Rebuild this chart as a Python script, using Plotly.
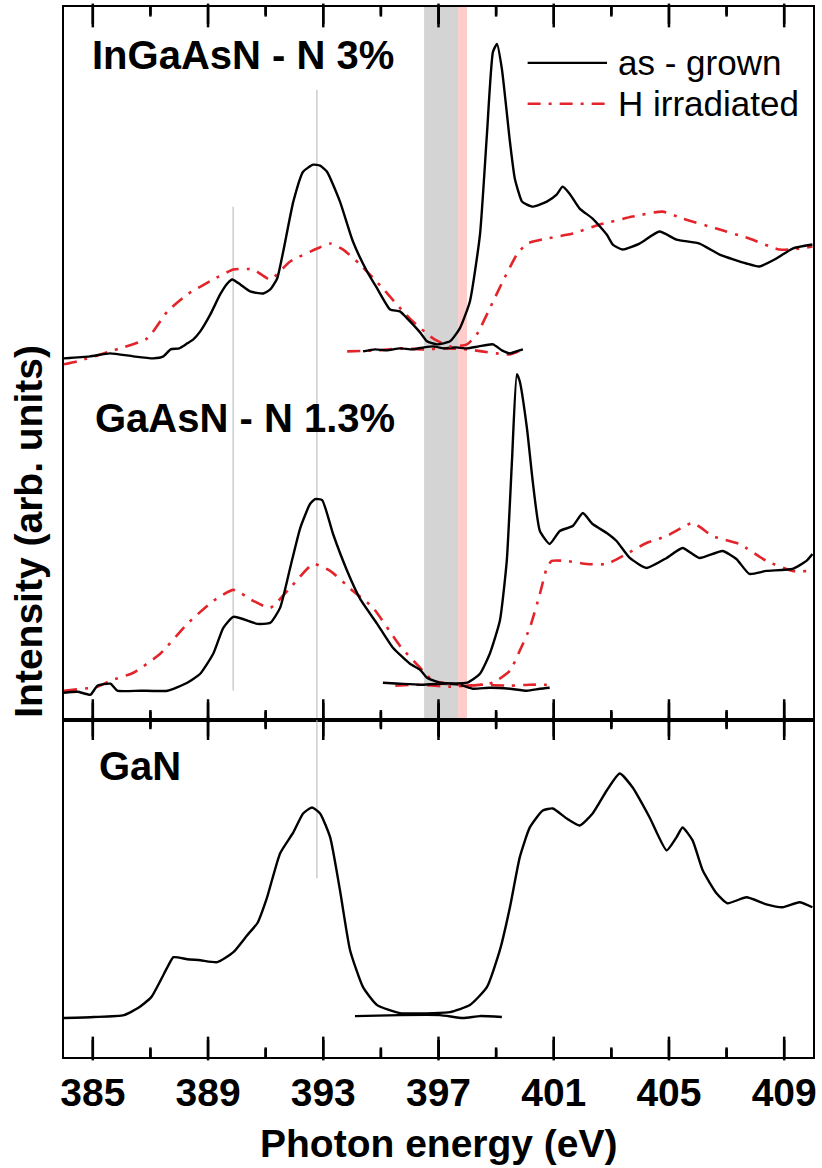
import plotly.graph_objects as go

# ---------------- data (photon energy in eV, intensity in arb. units) ----------------
INGAASN_GROWN_X = [384.0, 384.9, 385.6, 386.4, 387.1, 387.45, 387.7, 388.0, 388.28, 388.49, 388.73, 389.08,
                   389.42, 389.67, 389.84, 390.12, 390.46, 390.92, 391.16, 391.4, 391.61, 391.96, 392.3, 392.65,
                   392.89, 393.13, 393.58, 394.03, 394.52, 394.87, 395.32, 395.66, 395.91, 396.11, 396.36, 396.6,
                   396.95, 397.4, 397.74, 398.09, 398.44, 398.68, 398.89, 399.03, 399.2, 399.48, 399.65, 399.9,
                   400.07, 400.27, 400.76, 401.1, 401.31, 401.55, 401.9, 402.35, 402.84, 403.05, 403.39, 403.98,
                   404.67, 405.26, 406.06, 406.76, 407.69, 408.14, 408.73, 409.29, 409.98]
INGAASN_GROWN_Y = [362, 364, 367, 364, 362, 364, 371, 372, 377, 381, 389, 406,
                   426, 437, 441, 436, 429, 427, 431, 442, 469, 519, 549, 556,
                   555, 549, 519, 479, 449, 432, 411, 409, 402, 396, 388, 379,
                   376, 379, 392, 419, 486, 586, 669, 677, 652, 579, 542, 519,
                   516, 514, 519, 526, 534, 527, 512, 502, 486, 476, 471, 477,
                   489, 481, 477, 466, 457, 454, 462, 472, 476]

INGAASN_H_X = [384.0, 384.47, 385.61, 386.89, 387.59, 388.28, 389.18, 389.88, 390.57, 391.16, 391.85, 392.79,
               393.24, 393.69, 394.28, 395.07, 395.77, 396.11, 396.81, 397.4, 397.99, 398.33, 398.78, 399.23,
               399.72, 400.07, 400.76, 401.66, 402.6, 403.74, 404.78, 405.47, 406.65, 407.79, 408.83, 409.53, 409.98]
INGAASN_H_Y = [356, 359, 369, 382, 409, 426, 441, 451, 451, 441, 459, 472,
               477, 471, 456, 432, 409, 399, 382, 374, 376, 386, 412, 439,
               466, 477, 482, 487, 496, 504, 509, 502, 492, 482, 471, 472, 474]

INGAASN_BASE_GROWN_X = [394.38, 394.8, 395.2, 395.66, 396.1, 396.5, 396.81, 397.2, 397.6, 397.99, 398.4, 398.89,
                        399.2, 399.48, 399.7, 399.93]
INGAASN_BASE_GROWN_Y = [369, 371, 370, 372, 371, 373, 374, 372, 373, 372, 374, 376, 370, 367, 369, 371]
INGAASN_BASE_H_X = [393.83, 394.9, 395.66, 396.5, 397.2, 397.99, 398.5, 399.0, 399.48, 399.93]
INGAASN_BASE_H_Y = [369, 370, 372, 371, 372, 371, 369, 367, 366, 371]

GAASN_GROWN_X = [384.0, 384.47, 384.92, 385.16, 385.61, 385.85, 386.65, 387.59, 388.28, 388.73, 389.18, 389.53,
                 389.88, 390.71, 391.16, 391.5, 391.85, 392.2, 392.54, 392.72, 392.96, 393.34, 393.83, 394.28,
                 394.87, 395.42, 396.01, 396.36, 396.6, 397.05, 397.99, 398.44, 398.78, 399.13, 399.37, 399.55,
                 399.72, 399.82, 400.07, 400.27, 400.52, 400.86, 401.21, 401.66, 402.01, 402.35, 402.84, 403.18,
                 403.64, 404.22, 404.92, 405.47, 406.06, 406.86, 407.34, 407.79, 408.38, 409.29, 409.77, 409.98]
GAASN_GROWN_Y = [27, 28, 25, 34, 36, 29, 29, 29, 37, 46, 66, 92,
                 103, 96, 97, 112, 152, 192, 216, 221, 220, 186, 149, 121,
                 96, 72, 56, 50, 42, 37, 37, 46, 66, 99, 159, 259,
                 346, 339, 292, 239, 189, 176, 189, 194, 207, 196, 187, 179,
                 162, 152, 162, 172, 162, 169, 161, 146, 149, 151, 159, 166]

GAASN_H_X = [384.0, 385.16, 385.61, 386.41, 387.34, 388.28, 389.18, 389.88, 390.57, 391.16, 391.85, 392.65,
             393.24, 394.03, 394.73, 395.66, 396.36, 396.81, 397.99, 398.89, 399.48, 399.82, 400.17, 400.52,
             400.76, 400.93, 401.45, 402.15, 402.84, 403.53, 404.22, 404.92, 405.82, 406.51, 407.45, 408.38,
             409.29, 409.98]
GAASN_H_Y = [29, 33, 39, 47, 66, 96, 119, 130, 119, 112, 132, 156,
             149, 129, 112, 74, 52, 39, 34, 37, 49, 69, 92, 126,
             152, 159, 159, 156, 156, 166, 177, 184, 197, 184, 176, 159,
             149, 149]

GAASN_BASE_GROWN_X = [395.07, 395.66, 396.36, 397.05, 397.74, 398.2, 398.78, 399.48, 400.07, 400.52, 400.86]
GAASN_BASE_GROWN_Y = [37, 36, 35, 36, 35, 31, 32, 31, 29, 31, 32]
GAASN_BASE_H_X = [395.5, 396.36, 397.4, 398.44, 399.48, 400.17, 400.93]
GAASN_BASE_H_Y = [34, 35, 33, 35, 34, 35, 35]

GAN_X = [384.0, 385.04, 386.08, 386.57, 387.03, 387.59, 387.8, 388.28, 388.73, 389.32, 389.88, 390.36,
         390.71, 391.05, 391.5, 391.96, 392.3, 392.61, 392.89, 393.24, 393.58, 393.93, 394.38, 394.87,
         395.66, 396.81, 397.4, 398.09, 398.68, 399.13, 399.48, 399.82, 400.17, 400.62, 400.97, 401.45,
         401.9, 402.35, 402.84, 403.29, 403.74, 404.33, 404.92, 405.26, 405.47, 405.82, 406.17, 406.65,
         407.03, 407.69, 408.38, 408.94, 409.53, 409.98]
GAN_Y = [39, 40, 42, 49, 60, 90, 100, 98, 97, 95, 105, 122,
         134, 160, 204, 225, 244, 250, 244, 220, 167, 107, 70, 52,
         44, 44, 45, 52, 70, 107, 150, 200, 230, 247, 249, 239,
         232, 244, 267, 284, 270, 240, 207, 220, 230, 217, 187, 164,
         154, 160, 153, 150, 155, 150]
GAN_BASE_X = [394.1, 395.66, 397.05, 397.85, 398.44, 399.2]
GAN_BASE_Y = [41, 42, 42, 39, 41, 40]

X_RANGE = [384, 410]
MAJOR_TICKS = [385, 389, 393, 397, 401, 405, 409]
MINOR_TICKS = [387, 391, 395, 399, 403, 407]
TOP_Y_RANGE = [0, 714]
BOT_Y_RANGE = [0, 338]
GRAY_BAND = [396.5, 397.68]
PINK_BAND = [397.68, 397.99]
MARKER_LINE_1 = 389.87   # eV
MARKER_LINE_2 = 392.78   # eV

SERIES_NAMES = ["as - grown", "H irradiated"]
LABELS = ["InGaAsN - N 3%", "GaAsN - N 1.3%", "GaN"]

BLACK = "#000000"
RED = "#e3242b"
DASHDOT = "13px,8px,3px,8px"
FONT = "Liberation Sans, Arial, sans-serif"
MAJOR_LEN = 17   # tick length (px; 1 y unit = 1 px on both panels)
MINOR_LEN = 8

fig = go.Figure()


def add(x, y, red=False, xa="x", ya="y"):
    fig.add_trace(go.Scatter(
        x=x, y=y, mode="lines", xaxis=xa, yaxis=ya, showlegend=False,
        line=dict(color=RED if red else BLACK, width=2.6 if red else 2.4,
                  dash=DASHDOT if red else "solid", shape="spline", smoothing=0.5),
    ))


# top panel
add(INGAASN_BASE_H_X, INGAASN_BASE_H_Y, red=True)
add(INGAASN_BASE_GROWN_X, INGAASN_BASE_GROWN_Y)
add(INGAASN_H_X, INGAASN_H_Y, red=True)
add(INGAASN_GROWN_X, INGAASN_GROWN_Y)
add(GAASN_BASE_H_X, GAASN_BASE_H_Y, red=True)
add(GAASN_BASE_GROWN_X, GAASN_BASE_GROWN_Y)
add(GAASN_H_X, GAASN_H_Y, red=True)
add(GAASN_GROWN_X, GAASN_GROWN_Y)
# bottom panel
add(GAN_BASE_X, GAN_BASE_Y, xa="x2", ya="y2")
add(GAN_X, GAN_Y, xa="x2", ya="y2")

# inward tick marks on both frame edges of each panel
for xa, ya, yr in (("x", "y", TOP_Y_RANGE), ("x2", "y2", BOT_Y_RANGE)):
    for vals, length in ((MAJOR_TICKS, MAJOR_LEN), (MINOR_TICKS, MINOR_LEN)):
        for v in vals:
            for y0, y1 in ((yr[0], yr[0] + length), (yr[1], yr[1] - length)):
                fig.add_trace(go.Scatter(x=[v, v], y=[y0, y1], mode="lines", xaxis=xa, yaxis=ya,
                                         line=dict(color=BLACK, width=2.5), hoverinfo="skip",
                                         showlegend=False))
        # same ticks drawn as vertical-bar markers centred half a tick inside each edge
        mx = list(vals) + list(vals)
        my = [yr[0] + length / 2] * len(vals) + [yr[1] - length / 2] * len(vals)
        fig.add_trace(go.Scatter(x=mx, y=my, mode="markers", xaxis=xa, yaxis=ya, hoverinfo="skip",
                                 showlegend=False, cliponaxis=False,
                                 marker=dict(symbol="line-ns", size=length, color=BLACK,
                                             line=dict(color=BLACK, width=2.5))))

split = 338 / 1052

xcommon = dict(
    range=X_RANGE, showline=True, linewidth=2, linecolor=BLACK, mirror="ticks",
    ticks="inside", ticklen=MAJOR_LEN, tickwidth=2, tickcolor=BLACK,
    tickmode="array", tickvals=MAJOR_TICKS, ticktext=[str(v) for v in MAJOR_TICKS],
    showgrid=False, zeroline=False,
)
ycommon = dict(showline=True, linewidth=2, linecolor=BLACK, mirror=True, ticks="",
               showticklabels=False, showgrid=False, zeroline=False)

fig.update_layout(
    width=822, height=1168,
    margin=dict(l=64, r=8, t=5, b=111),
    plot_bgcolor="white", paper_bgcolor="white",
    showlegend=False,
    font=dict(family=FONT, color=BLACK),
    xaxis=dict(**xcommon, domain=[0, 1], anchor="y", showticklabels=False),
    xaxis2=dict(**xcommon, domain=[0, 1], anchor="y2", showticklabels=True,
                tickfont=dict(family=FONT, size=39, color=BLACK, weight="bold")),
    yaxis=dict(**ycommon, domain=[split, 1], range=TOP_Y_RANGE, anchor="x"),
    yaxis2=dict(**ycommon, domain=[0, split], range=BOT_Y_RANGE, anchor="x2"),
)

shapes = [
    dict(type="rect", xref="x", yref="y", x0=GRAY_BAND[0], x1=GRAY_BAND[1],
         y0=TOP_Y_RANGE[0], y1=TOP_Y_RANGE[1],
         fillcolor="#d4d4d4", line=dict(width=0), layer="below"),
    dict(type="rect", xref="x", yref="y", x0=PINK_BAND[0], x1=PINK_BAND[1],
         y0=TOP_Y_RANGE[0], y1=TOP_Y_RANGE[1],
         fillcolor="#ffcccc", line=dict(width=0), layer="below"),
    dict(type="line", xref="x", yref="y", x0=MARKER_LINE_1, x1=MARKER_LINE_1, y0=29, y1=514,
         line=dict(color="#b4b4b4", width=1), layer="below"),
    dict(type="line", xref="x", yref="y", x0=MARKER_LINE_2, x1=MARKER_LINE_2, y0=0, y1=631,
         line=dict(color="#b4b4b4", width=1), layer="below"),
    dict(type="line", xref="x2", yref="y2", x0=MARKER_LINE_2, x1=MARKER_LINE_2, y0=179, y1=338,
         line=dict(color="#b4b4b4", width=1), layer="below"),
    # legend samples
    dict(type="line", xref="paper", yref="paper", x0=0.619, x1=0.725, y0=0.9468, y1=0.9468,
         line=dict(color=BLACK, width=2.4)),
    dict(type="line", xref="paper", yref="paper", x0=0.619, x1=0.725, y0=0.9078, y1=0.9078,
         line=dict(color=RED, width=2.6, dash=DASHDOT)),
]
fig.update_layout(shapes=shapes)

bold = dict(family=FONT, size=40, color=BLACK, weight="bold")
ann = [
    dict(text=LABELS[0], x=0.035, y=0.9545, xanchor="left", yanchor="middle", font=bold),
    dict(text=LABELS[1], x=0.039, y=0.6085, xanchor="left", yanchor="middle", font=bold),
    dict(text=LABELS[2], x=0.044, y=0.2768, xanchor="left", yanchor="middle", font=bold),
    dict(text=SERIES_NAMES[0], x=0.737, y=0.9468, xanchor="left", yanchor="middle",
         font=dict(family=FONT, size=35, color=BLACK)),
    dict(text=SERIES_NAMES[1], x=0.737, y=0.9078, xanchor="left", yanchor="middle",
         font=dict(family=FONT, size=35, color=BLACK)),
    dict(text="Photon energy (eV)", x=0.5007, y=-0.0827, xanchor="center", yanchor="middle",
         font=dict(family=FONT, size=39, color=BLACK, weight="bold")),
    dict(text="Intensity (arb. units)", x=-0.047, y=0.501, xanchor="center", yanchor="middle",
         textangle=-90, font=dict(family=FONT, size=39, color=BLACK, weight="bold")),
]
for a in ann:
    a.update(xref="paper", yref="paper", showarrow=False)
fig.update_layout(annotations=ann)

fig.write_html("out.html")
